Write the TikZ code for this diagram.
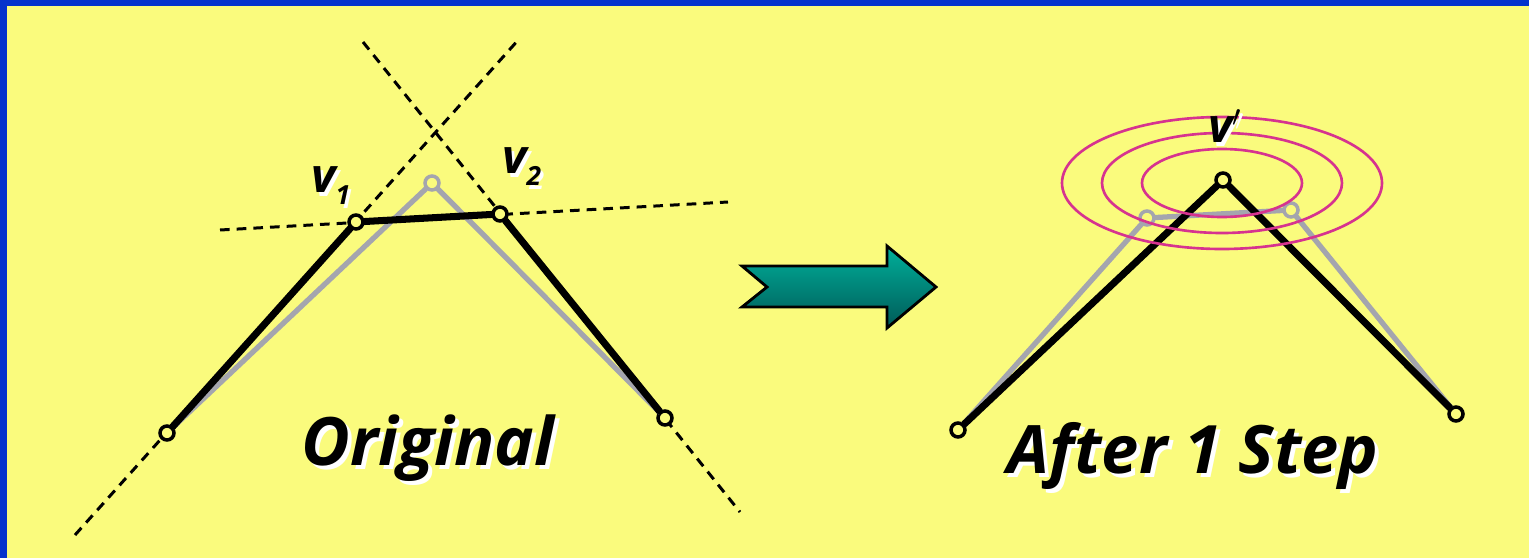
\documentclass[tikz,border=0pt]{standalone}
\usepackage{fontspec}
\newfontfamily\rotfont{Open Sans}
\definecolor{fondo}{HTML}{FAFB7D}
\definecolor{marco}{HTML}{0433CC}
\definecolor{gris}{HTML}{A4A5AE}
\definecolor{rosa}{HTML}{D6338F}
\definecolor{tealclaro}{HTML}{00B09A}
\definecolor{tealoscuro}{HTML}{005A58}
\newcommand{\vsub}[1]{v\raisebox{-0.27em}{\fontsize{15}{15}\selectfont #1}}
\tikzset{
  vert/.style={circle,draw=black,fill=fondo,line width=2pt,inner sep=0pt,minimum size=0.28cm},
  vertgris/.style={vert,draw=gris},
  linea/.style={line width=4pt,line cap=round},
  lineagris/.style={gris,line width=3pt,line cap=round},
  guia/.style={line width=1.7pt,dash pattern=on 5.5pt off 4pt},
  titulo/.style={font=\rotfont\bfseries\itshape\fontsize{38}{40}\selectfont,inner sep=0pt,anchor=base},
  etiq/.style={font=\rotfont\bfseries\itshape\fontsize{27}{30}\selectfont,inner sep=0pt,anchor=base west},
  sombra/.style={text=white}
}

\begin{document}
\begin{tikzpicture}[x=0.02cm,y=-0.02cm]
  \useasboundingbox (0,0) rectangle (1529,558);
  % fondo y marco
  \fill[fondo] (0,0) rectangle (1529,558);
  \fill[marco] (0,0) rectangle (1529,6);
  \fill[marco] (0,0) rectangle (7,558);

  % original: rectas guia
  \coordinate (d1a) at (75,535);  \coordinate (d1b) at (520,38);
  \coordinate (d2a) at (363,42);  \coordinate (d2b) at (740,512);
  \coordinate (d3a) at (220,230); \coordinate (d3b) at (728,202);
  \draw[guia] (d1a) -- (d1b);
  \draw[guia] (d2a) -- (d2b);
  \draw[guia] (d3a) -- (d3b);

  % original: vertices
  \node[vert] (a) at (167,433) {};
  \node[vert] (v1) at (356,222) {};
  \node[vert] (v2) at (500,214) {};
  \node[vert] (b) at (665,418) {};
  \node[vertgris] (p) at (432,183) {};
  \draw[lineagris] (a) -- (p) -- (b);
  \draw[linea] (a) -- (v1) -- (v2) -- (b);

  \node[etiq,sombra] (v1s) at (314,196) {\vsub{1}};
  \node[etiq] (v1l) at (311,192) {\vsub{1}};
  \node[etiq,sombra] (v2s) at (505,177) {\vsub{2}};
  \node[etiq] (v2l) at (502,173) {\vsub{2}};

  % flecha
  \shade[top color=tealclaro,bottom color=tealoscuro,draw=black,line width=1.6pt,line join=miter]
    (742,266) -- (887,266) -- (887,246) -- (936,287) -- (887,328) -- (887,307) -- (742,307) -- (767,287) -- cycle;

  % despues de un paso
  \node[vert] (c) at (958,430) {};
  \node[vert] (q) at (1223,180) {};
  \node[vert] (d) at (1456,414) {};
  \node[vertgris] (g1) at (1147,218) {};
  \node[vertgris] (g2) at (1291,210) {};
  \draw[lineagris] (c) -- (g1) -- (g2) -- (d);
  \draw[linea] (c) -- (q) -- (d);

  % curvas de nivel
  \foreach \rx/\ry in {80/34,120/50,160/66}
    \draw[rosa,line width=1.5pt] (1222,183) ellipse ({\rx} and {\ry});

  \node[etiq,sombra] (vps) at (1211,146) {v$'$};
  \node[etiq] (vp) at (1208,142) {v$'$};

  % titulos
  \node[titulo,sombra] (orig-s) at (432,469) {Original};
  \node[titulo] (orig) at (428,465) {Original};
  \node[titulo,sombra] (paso-s) at (1197,477) {After 1 Step};
  \node[titulo] (paso) at (1193,473) {After 1 Step};
\end{tikzpicture}
\end{document}
